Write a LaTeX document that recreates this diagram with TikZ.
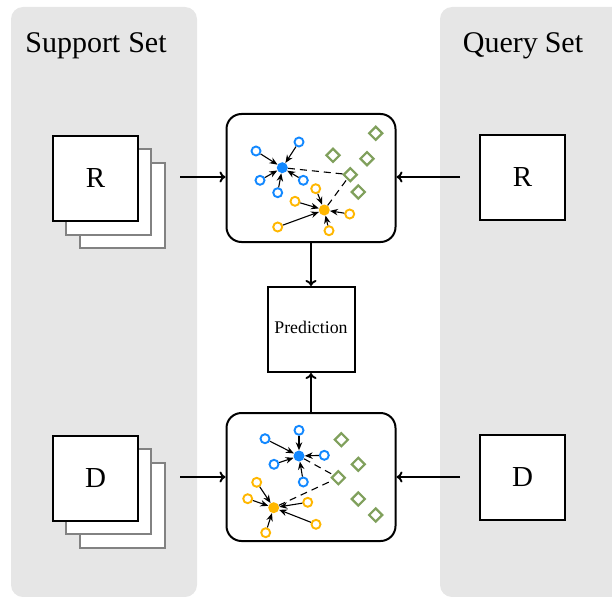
\documentclass[tikz,border=0pt]{standalone}
\usepackage{fontspec}
\setmainfont{Liberation Serif}
\usetikzlibrary{shapes.geometric,arrows.meta}
\definecolor{panelgray}{RGB}{230,230,230}
\definecolor{cblue}{RGB}{18,136,255}
\definecolor{corange}{RGB}{255,183,0}
\definecolor{cgreen}{RGB}{128,160,92}
\definecolor{stackgray}{RGB}{130,130,130}
\begin{document}
\begin{tikzpicture}[x=1pt,y=-1pt,
  panel/.style={fill=panelgray, rounded corners=12pt},
  title/.style={font=\fontsize{30}{32}\selectfont},
  imgbox/.style={draw, line width=2pt, fill=white, minimum size=85pt, inner sep=0pt, font=\fontsize{29}{30}\selectfont},
  backbox/.style={draw=stackgray, line width=2pt, fill=white, minimum size=85pt, inner sep=0pt},
  clusterbox/.style={draw, line width=2pt, fill=white, rounded corners=15pt, minimum width=169pt, minimum height=128pt},
  predbox/.style={draw, line width=2pt, fill=white, minimum width=87pt, minimum height=85pt, font=\fontsize{17.8}{19}\selectfont},
  flow/.style={-{To[length=6pt,width=11pt]}, line width=1.9pt},
  bh/.style={circle, draw=cblue, line width=1.9pt, fill=white, inner sep=0pt, minimum size=9pt},
  oh/.style={circle, draw=corange, line width=1.9pt, fill=white, inner sep=0pt, minimum size=9pt},
  bc/.style={circle, fill=cblue, inner sep=0pt, minimum size=11pt},
  oc/.style={circle, fill=corange, inner sep=0pt, minimum size=11pt},
  dm/.style={diamond, draw=cgreen, line width=2.2pt, fill=white, inner sep=0pt, minimum size=14pt},
  pull/.style={-{Stealth[length=8pt,width=6.5pt]}, line width=1.1pt},
  dlink/.style={dash pattern=on 7pt off 5pt, line width=1.1pt}
]
\clip (0,0) rectangle (612,596);
\useasboundingbox (0,0) rectangle (612,596);
% panels
\fill[panel] (11,7) rectangle (197,597);
\fill[panel] (440,7) rectangle (630,597);
\node[title] (st) at (96,46) {Support\hspace{8pt}Set};
\node[title] (qt) at (523,46) {Query\hspace{7pt}Set};

% support R stack
\node[backbox] (r3) at (122,205.5) {};
\node[backbox] (r2) at (108.5,192) {};
\node[imgbox] (r1) at (95.5,178.5) {R};
% support D stack
\node[backbox] (d3) at (122,505) {};
\node[backbox] (d2) at (108.5,491.5) {};
\node[imgbox] (d1) at (95.5,478) {D};
% query boxes
\node[imgbox] (qr) at (522.5,177.5) {R};
\node[imgbox] (qd) at (522.5,477.5) {D};

% cluster boxes
\node[clusterbox] (ctop) at (311,178) {};
\node[clusterbox] (cbot) at (311,477) {};
\node[predbox] (pred) at (311,329.5) {\raisebox{5pt}{Prediction}};

% flow arrows
\coordinate (a1) at (180,177);
\coordinate (a2) at (460,177);
\coordinate (a3) at (180,477);
\coordinate (a4) at (460,477);
\draw[flow] (a1) -- (a1 -| ctop.west);
\draw[flow] (a2) -- (a2 -| ctop.east);
\draw[flow] (a3) -- (a3 -| cbot.west);
\draw[flow] (a4) -- (a4 -| cbot.east);
\draw[flow] (ctop.south) -- (pred.north);
\draw[flow] (cbot.north) -- (pred.south);

% ---- top cluster ----
\node[dm] (tg1) at (375.7,133.3) {};
\node[dm] (tg2) at (333,155.3) {};
\node[dm] (tg3) at (367,158.7) {};
\node[dm] (tg4) at (350.3,174.7) {};
\node[dm] (tg5) at (358.3,192) {};
\node[bc] (tbc) at (282.3,167.7) {};
\node[oc] (toc) at (324.3,210) {};
\draw[dlink] (tbc) -- (tg4);
\draw[dlink] (toc) -- (tg4);
\node[bh] (tb1) at (256,151) {};
\node[bh] (tb2) at (299,142) {};
\node[bh] (tb3) at (260,180.3) {};
\node[bh] (tb4) at (277.7,192.7) {};
\node[bh] (tb5) at (303.3,180.3) {};
\foreach \n in {tb1,tb2,tb3,tb4,tb5} \draw[pull] (\n) -- (tbc);
\node[oh] (to1) at (315.7,188.7) {};
\node[oh] (to2) at (295,201.3) {};
\node[oh] (to3) at (277.7,227) {};
\node[oh] (to4) at (329,230.7) {};
\node[oh] (to5) at (349.7,214) {};
\foreach \n in {to1,to2,to3,to4,to5} \draw[pull] (\n) -- (toc);

% ---- bottom cluster ----
\node[dm] (bg1) at (341.3,439.7) {};
\node[dm] (bg2) at (358.3,464.3) {};
\node[dm] (bg3) at (338.3,477.7) {};
\node[dm] (bg4) at (358.3,499) {};
\node[dm] (bg5) at (375.7,515) {};
\node[bc] (bbc) at (299,456) {};
\node[oc] (boc) at (273.7,507.7) {};
\draw[dlink] (bbc) -- (bg3);
\draw[dlink] (boc) -- (bg3);
\node[bh] (bb1) at (265,438.7) {};
\node[bh] (bb2) at (299,430.3) {};
\node[bh] (bb3) at (324.3,455.3) {};
\node[bh] (bb4) at (274,464.3) {};
\node[bh] (bb5) at (303.3,482) {};
\foreach \n in {bb1,bb2,bb3,bb4,bb5} \draw[pull] (\n) -- (bbc);
\node[oh] (bo1) at (256.7,482.3) {};
\node[oh] (bo2) at (247.7,498.7) {};
\node[oh] (bo3) at (307.7,502.3) {};
\node[oh] (bo4) at (316,524.3) {};
\node[oh] (bo5) at (265.7,532.7) {};
\foreach \n in {bo1,bo2,bo3,bo4,bo5} \draw[pull] (\n) -- (boc);
\end{tikzpicture}
\end{document}
